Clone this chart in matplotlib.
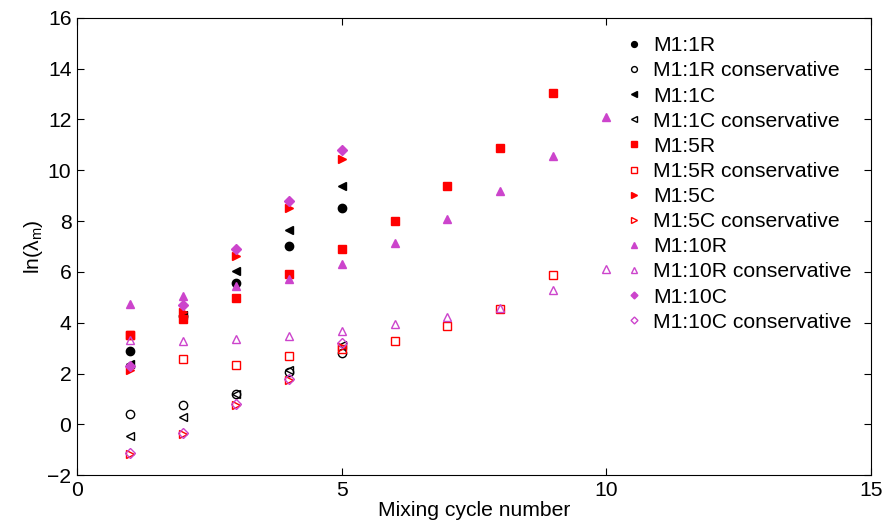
import matplotlib
matplotlib.use("Agg")
import matplotlib.pyplot as plt

plt.rcParams['font.family'] = ['Liberation Sans', 'DejaVu Sans']
plt.rcParams['mathtext.fontset'] = 'custom'
plt.rcParams['mathtext.rm'] = 'Liberation Sans'
plt.rcParams['mathtext.it'] = 'Liberation Sans'

cycles5 = [1, 2, 3, 4, 5]
cycles9 = [1, 2, 3, 4, 5, 6, 7, 8, 9]
cycles10 = [1, 2, 3, 4, 5, 6, 7, 8, 9, 10]

m1_1R = [2.88, 4.28, 5.57, 7.01, 8.51]
m1_1R_cons = [0.42, 0.75, 1.20, 2.05, 2.80]
m1_1C = [2.36, 4.30, 6.05, 7.65, 9.39]
m1_1C_cons = [-0.47, 0.29, 1.18, 2.12, 3.14]
m1_5R = [3.50, 4.15, 4.98, 5.92, 6.90, 7.99, 9.37, 10.86, 13.06]
m1_5R_cons = [3.50, 2.58, 2.32, 2.67, 2.97, 3.27, 3.86, 4.52, 5.89]
m1_5C = [2.12, 4.41, 6.64, 8.51, 10.44]
m1_5C_cons = [-1.18, -0.39, 0.75, 1.73, 3.05]
m1_10R = [4.72, 5.07, 5.46, 5.72, 6.31, 7.12, 8.08, 9.19, 10.55, 12.10]
m1_10R_cons = [3.33, 3.27, 3.37, 3.46, 3.69, 3.93, 4.22, 4.57, 5.27, 6.12]
m1_10C = [2.30, 4.68, 6.90, 8.80, 10.79]
m1_10C_cons = [-1.12, -0.35, 0.80, 1.80, 3.20]

labels = ['M1:1R', 'M1:1R conservative', 'M1:1C', 'M1:1C conservative',
          'M1:5R', 'M1:5R conservative', 'M1:5C', 'M1:5C conservative',
          'M1:10R', 'M1:10R conservative', 'M1:10C', 'M1:10C conservative']

MAG = '#cc44cc'
series = [
    (cycles5, m1_1R, 'o', 'k', True),
    (cycles5, m1_1R_cons, 'o', 'k', False),
    (cycles5, m1_1C, '<', 'k', True),
    (cycles5, m1_1C_cons, '<', 'k', False),
    (cycles9, m1_5R, 's', 'red', True),
    (cycles9, m1_5R_cons, 's', 'red', False),
    (cycles5, m1_5C, '>', 'red', True),
    (cycles5, m1_5C_cons, '>', 'red', False),
    (cycles10, m1_10R, '^', MAG, True),
    (cycles10, m1_10R_cons, '^', MAG, False),
    (cycles5, m1_10C, 'D', MAG, True),
    (cycles5, m1_10C_cons, 'D', MAG, False),
]

FS = 15.2

fig = plt.figure(figsize=(8.85, 5.25), dpi=100)
ax = fig.add_axes([0.087, 0.095, 0.897, 0.871])

for (x, y, m, c, filled), lab in zip(series, labels):
    ms = 5 if m == 'D' else 6
    if m == 's':
        ms = 5.5
    ax.plot(x, y, linestyle='none', marker=m, markersize=ms,
            markeredgecolor=c, markerfacecolor=c if filled else 'none',
            markeredgewidth=1.0, label=lab)

ax.set_xlim(0, 15)
ax.set_ylim(-2, 16)
ax.set_xticks([0, 5, 10, 15])
ax.set_yticks(range(-2, 17, 2))
ax.tick_params(direction='in', top=True, right=True, labelsize=FS, length=5, pad=4)
ax.set_xlabel('Mixing cycle number', fontsize=FS, labelpad=1)
ax.set_ylabel(r'ln($\lambda_\mathregular{m}$)', fontsize=FS, labelpad=2)

leg = ax.legend(loc='upper right', bbox_to_anchor=(0.986, 0.978), frameon=False,
                fontsize=FS, handlelength=0.8, handletextpad=0.5,
                labelspacing=0.29, markerscale=0.7, borderaxespad=0)

fig.savefig('out.png', dpi=100)
